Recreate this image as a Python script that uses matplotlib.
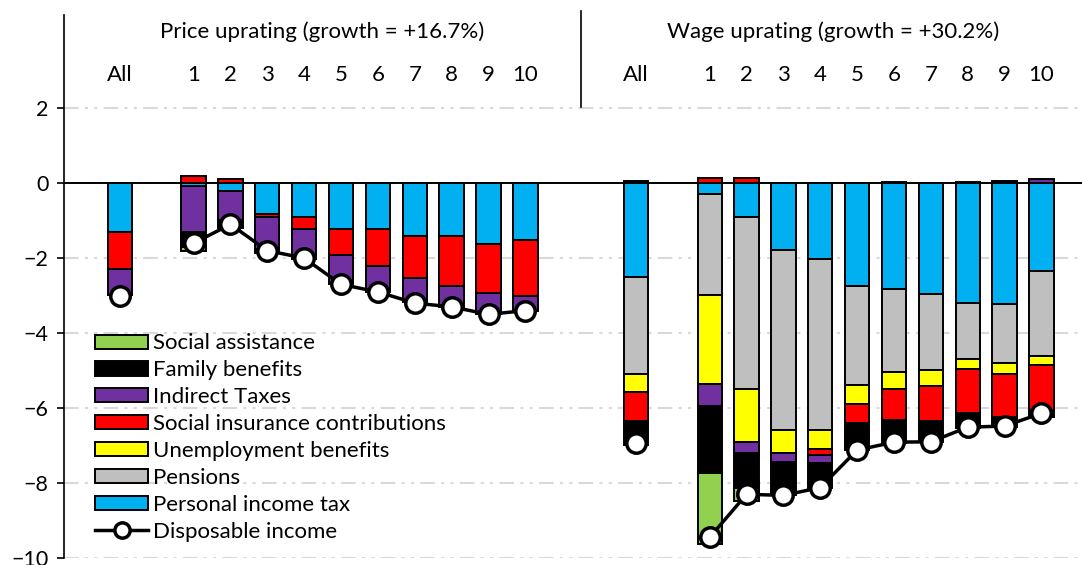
import numpy as np
import matplotlib
matplotlib.use('Agg')
import matplotlib.pyplot as plt
from matplotlib.lines import Line2D
from matplotlib.patches import Patch

plt.rcParams['font.family'] = ['Lato', 'DejaVu Sans']

# Categories
groups = ['All', '1', '2', '3', '4', '5', '6', '7', '8', '9', '10']
panel_titles = ['Price uprating (growth = +16.7%)', 'Wage uprating (growth = +30.2%)']

# Components, price uprating
price_pit = [-1.30, -0.08, -0.21, -0.81, -0.90, -1.23, -1.21, -1.41, -1.41, -1.61, -1.52]
price_pen = [0, 0, 0, 0, 0, 0, 0, 0, 0, 0, 0]
price_unemp = [0, 0, 0, 0, 0, 0, 0, 0, 0, 0, 0]
price_sic = [-1.00, 0.19, 0.10, -0.09, -0.31, -0.69, -1.00, -1.11, -1.33, -1.31, -1.49]
price_ind = [-0.69, -1.22, -0.78, -0.85, -0.79, -0.75, -0.69, -0.64, -0.56, -0.56, -0.40]
price_fam = [0, -0.40, -0.20, -0.10, -0.02, -0.02, 0, 0, 0, 0, 0]
price_sa = [0, -0.10, 0, 0, 0, 0, 0, 0, 0, 0, 0]
price_disp = [-3.0, -1.6, -1.1, -1.8, -2.0, -2.7, -2.9, -3.2, -3.3, -3.5, -3.4]

# Components, wage uprating
wage_pit = [-2.50, -0.28, -0.90, -1.77, -2.02, -2.75, -2.83, -2.96, -3.19, -3.23, -2.35]
wage_pen = [-2.58, -2.71, -4.58, -4.82, -4.57, -2.64, -2.20, -2.03, -1.51, -1.56, -2.26]
wage_unemp = [-0.48, -2.37, -1.42, -0.60, -0.49, -0.49, -0.47, -0.41, -0.27, -0.29, -0.24]
wage_sic = [-0.79, 0.15, 0.14, 0, -0.17, -0.53, -0.82, -0.95, -1.17, -1.15, -1.20]
wage_ind = [0.07, -0.59, -0.31, -0.24, -0.21, 0, 0.03, 0, 0.04, 0.05, 0.11]
wage_fam = [-0.64, -1.77, -0.93, -0.90, -0.68, -0.71, -0.62, -0.55, -0.39, -0.27, -0.20]
wage_sa = [0, -1.91, -0.34, 0, 0, 0, 0, 0, 0, 0, 0]
wage_disp = [-6.92, -9.45, -8.30, -8.33, -8.12, -7.12, -6.91, -6.90, -6.51, -6.48, -6.14]

labels = ['Personal income tax', 'Pensions', 'Unemployment benefits',
          'Social insurance contributions', 'Indirect Taxes', 'Family benefits',
          'Social assistance']
colors = ['#00B0F0', '#BFBFBF', '#FFFF00', '#FF0000', '#7030A0', '#000000', '#92D050']

price = [price_pit, price_pen, price_unemp, price_sic, price_ind, price_fam, price_sa]
wage = [wage_pit, wage_pen, wage_unemp, wage_sic, wage_ind, wage_fam, wage_sa]

fig = plt.figure(figsize=(10.82, 5.65), dpi=100)
ax = fig.add_axes([0.059, 0.0124, 0.941, 0.9606])

slots = np.array([0] + list(range(2, 12)))
panels = [(slots, price, price_disp), (slots + 14, wage, wage_disp)]

for x, comps, disp in panels:
    pos = np.zeros(len(x))
    neg = np.zeros(len(x))
    for vals, c in zip(comps, colors):
        v = np.array(vals, dtype=float)
        bottom = np.where(v >= 0, pos, neg)
        mask = v != 0
        ax.bar(x[mask], v[mask], bottom=bottom[mask], width=0.66, color=c,
               edgecolor='black', linewidth=1.4, zorder=3)
        pos = pos + np.clip(v, 0, None)
        neg = neg + np.clip(v, None, 0)
    ax.plot(x[1:], disp[1:], color='black', lw=2.5, zorder=4)
    ax.plot(x, disp, ls='none', marker='o', ms=14, mfc='white', mec='black',
            mew=2.5, zorder=5)

# header texts
for x, title, dx in zip([slots, slots + 14], panel_titles, [0.0, -0.15]):
    ax.text((x[0] + x[-1]) / 2 + dx, 4.05, title, ha='center', va='center', fontsize=16)
    for xi, g in zip(x, groups):
        ax.text(xi, 2.88, g, ha='center', va='center', fontsize=16)

ax.plot([12.5, 12.5], [2.02, 4.6], color='black', lw=1.2, clip_on=False)
ax.axhline(0, color='black', lw=1.4, zorder=3.5)

ax.set_xlim(-1.52, 26.1)
ax.set_ylim(-10, 4.48)
ax.set_yticks([2, 0, -2, -4, -6, -8, -10])
for y in [2, -2, -4, -6, -8, -10]:
    ax.axhline(y, color='#D9D9D9', lw=1.5, dashes=(7, 3, 1.5, 3, 1.5, 3), zorder=1)
ax.set_xticks([])
for s in ['top', 'right', 'bottom']:
    ax.spines[s].set_visible(False)
ax.spines['left'].set_linewidth(1.2)
ax.tick_params(axis='y', labelsize=15.5, length=5, width=1.2, pad=6)

handles = [Patch(facecolor=c, edgecolor='black', linewidth=1.4, label=l)
           for c, l in zip(colors[::-1], labels[::-1])]
handles.append(Line2D([0], [0], color='black', lw=2.5, marker='o', ms=11,
                      mfc='white', mec='black', mew=2.5, label='Disposable income'))
ax.legend(handles=handles, loc='lower left', bbox_to_anchor=(0.031, 0.03),
          frameon=False, fontsize=16, handlelength=2.35, handleheight=0.6,
          handletextpad=0.25, labelspacing=0.31, borderaxespad=0, borderpad=0)

fig.savefig('out.png', dpi=100)
